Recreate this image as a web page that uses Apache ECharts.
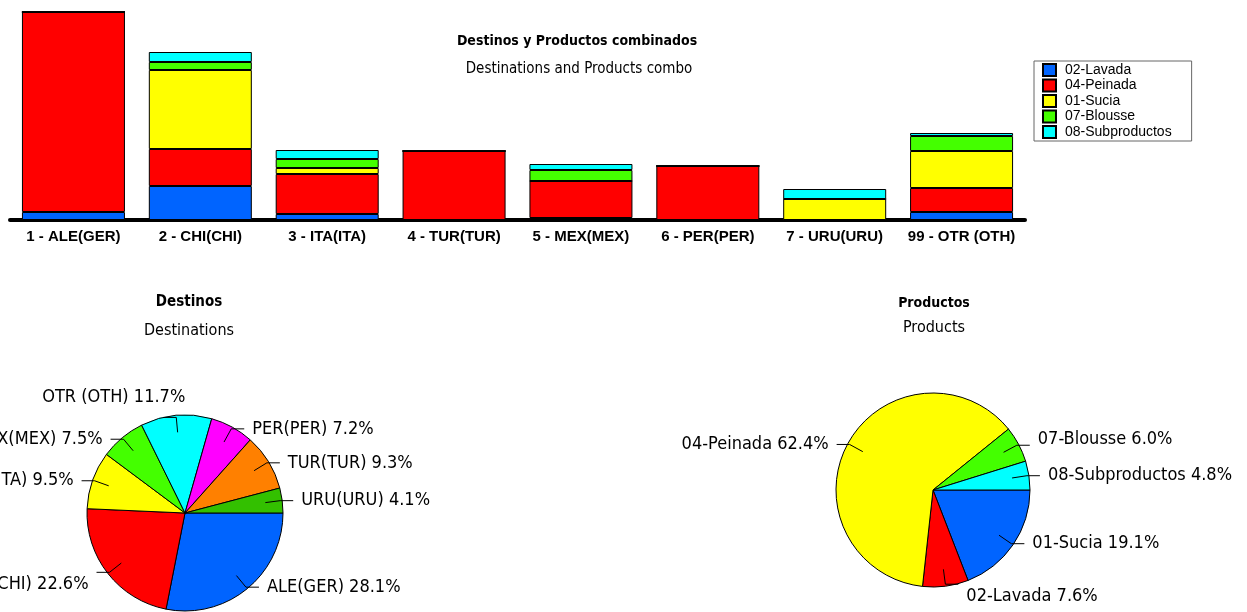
<!DOCTYPE html>
<html>
<head>
<meta charset="utf-8">
<script src="https://cdn.jsdelivr.net/npm/echarts@6/dist/echarts.min.js"></script>
<style>
  html, body { margin: 0; padding: 0; background: #fff; }
  #main { width: 1247px; height: 612px; }
</style>
</head>
<body>
<div id="main"></div>
<script>
  // bar chart: destinations x products (heights, arbitrary units)
  var categories = ['1 - ALE(GER)', '2 - CHI(CHI)', '3 - ITA(ITA)', '4 - TUR(TUR)', '5 - MEX(MEX)', '6 - PER(PER)', '7 - URU(URU)', '99 - OTR (OTH)'];
  var lavada  = [8, 34, 6, 0, 2, 0, 0, 8];
  var peinada = [200, 37, 40, 69, 37, 54, 0, 24];
  var sucia   = [0, 79, 6, 0, 0, 0, 21, 37];
  var blousse = [0, 8, 9, 0, 11, 0, 0, 15];
  var subprod = [0, 10, 9, 0, 6, 0, 10, 3];
  var productNames = ['02-Lavada', '04-Peinada', '01-Sucia', '07-Blousse', '08-Subproductos'];

  // pie: destinos (%)
  var destNames  = ['ALE(GER)', 'CHI(CHI)', 'ITA(ITA)', 'MEX(MEX)', 'OTR (OTH)', 'PER(PER)', 'TUR(TUR)', 'URU(URU)'];
  var destValues = [28.1, 22.6, 9.5, 7.5, 11.7, 7.2, 9.3, 4.1];

  // pie: productos (%)
  var prodNames  = ['01-Sucia', '02-Lavada', '04-Peinada', '07-Blousse', '08-Subproductos'];
  var prodValues = [19.1, 7.6, 62.4, 6.0, 4.8];

  var barColors  = ['#0064ff', '#ff0000', '#ffff00', '#44ff00', '#00ffff'];
  var destColors = ['#0064ff', '#ff0000', '#ffff00', '#44ff00', '#00ffff', '#ff00ff', '#ff8000', '#33c000'];
  var prodColors = ['#0064ff', '#ff0000', '#ffff00', '#44ff00', '#00ffff'];

  var NARROW = '"DejaVu Sans Condensed", "Liberation Sans Narrow", sans-serif';
  var ARIAL = '"Liberation Sans", Arial, sans-serif';

  var barData = [lavada, peinada, sucia, blousse, subprod];

  function pieData(names, values, colors) {
    return names.map(function (n, i) {
      return { name: n, value: values[i], itemStyle: { color: colors[i] } };
    });
  }
  function labelData(names, values) {
    return names.map(function (n, i) { return { name: n, value: values[i] }; });
  }

  function pieFill(center, r, names, values, colors) {
    return {
      type: 'pie', center: center, radius: r, startAngle: 0, clockwise: true,
      silent: true, z: 2,
      itemStyle: { borderColor: '#000', borderWidth: 1 },
      label: { show: false }, labelLine: { show: false },
      data: pieData(names, values, colors)
    };
  }
  // transparent smaller pie carrying labels so leader lines start inside the slices
  function pieLabels(center, r, names, values, layout) {
    return {
      type: 'pie', center: center, radius: r, startAngle: 0, clockwise: true,
      silent: true, z: 5, avoidLabelOverlap: false,
      itemStyle: { color: 'rgba(0,0,0,0)', borderWidth: 0 },
      label: {
        show: true, color: '#000', fontFamily: NARROW, fontSize: 18,
        distanceToLabelLine: 8, width: 240, overflow: 'none',
        formatter: function (p) { return p.name + ' ' + p.value.toFixed(1) + '%'; }
      },
      labelLine: { show: true, length: 15, length2: 13, lineStyle: { color: '#000', width: 1 } },
      labelLayout: layout,
      emphasis: { disabled: true },
      data: labelData(names, values)
    };
  }

  var series = productNames.map(function (name, i) {
    return {
      name: name, type: 'bar', stack: 'total', barWidth: 103,
      itemStyle: { color: barColors[i], borderColor: '#000', borderWidth: 1 },
      data: barData[i]
    };
  });
  series.push(pieFill([185, 513], 98, destNames, destValues, destColors));
  series.push(pieLabels([185, 513], 81, destNames, destValues, function (p) {
    // OTR label sits above its leader line in the original
    if (p.dataIndex === 4) return { dx: 30, dy: -20 };
    if (p.dataIndex === 1) return { dy: 12 };
  }));
  series.push(pieFill([933, 490], 97, prodNames, prodValues, prodColors));
  series.push(pieLabels([933, 490], 80, prodNames, prodValues, function (p) {
    if (p.dataIndex === 1) return { dy: 12 };
    if (p.dataIndex === 3) return { dy: -6 };
  }));

  var chart = echarts.init(document.getElementById('main'));
  chart.setOption({
    animation: false,
    backgroundColor: '#fff',
    title: [
      { text: 'Destinos y Productos combinados', left: 577, top: 34, padding: 0, textAlign: 'center',
        textStyle: { fontFamily: NARROW, fontSize: 14, fontWeight: 'bold', color: '#000' } },
      { text: 'Destinations and Products combo', left: 579, top: 62, padding: 0, textAlign: 'center',
        textStyle: { fontFamily: NARROW, fontSize: 15, fontWeight: 'normal', color: '#000' } },
      { text: 'Destinos', left: 189, top: 295, padding: 0, textAlign: 'center',
        textStyle: { fontFamily: NARROW, fontSize: 15, fontWeight: 'bold', color: '#000' } },
      { text: 'Destinations', left: 189, top: 323, padding: 0, textAlign: 'center',
        textStyle: { fontFamily: NARROW, fontSize: 16, fontWeight: 'normal', color: '#000' } },
      { text: 'Productos', left: 934, top: 296, padding: 0, textAlign: 'center',
        textStyle: { fontFamily: NARROW, fontSize: 14, fontWeight: 'bold', color: '#000' } },
      { text: 'Products', left: 934, top: 320, padding: 0, textAlign: 'center',
        textStyle: { fontFamily: NARROW, fontSize: 16, fontWeight: 'normal', color: '#000' } }
    ],
    legend: {
      data: productNames,
      orient: 'vertical', left: 1034, top: 61,
      padding: [2, 20, 2, 8],
      borderColor: '#666', borderWidth: 1,
      icon: 'rect',
      itemWidth: 13, itemHeight: 12, itemGap: 1.5,
      selectedMode: false,
      textStyle: { fontFamily: ARIAL, fontSize: 14, color: '#000', padding: [0, 0, 0, 4] }
    },
    grid: { left: 10, right: 222, top: 10, bottom: 392 },
    xAxis: {
      type: 'category', data: categories,
      axisLine: { lineStyle: { color: '#000', width: 4 } },
      axisTick: { show: false },
      axisLabel: { margin: 9, interval: 0, fontFamily: ARIAL, fontWeight: 'bold', fontSize: 15, color: '#000' }
    },
    yAxis: { type: 'value', min: 0, max: 210, show: false, splitLine: { show: false } },
    series: series
  });
</script>
</body>
</html>
